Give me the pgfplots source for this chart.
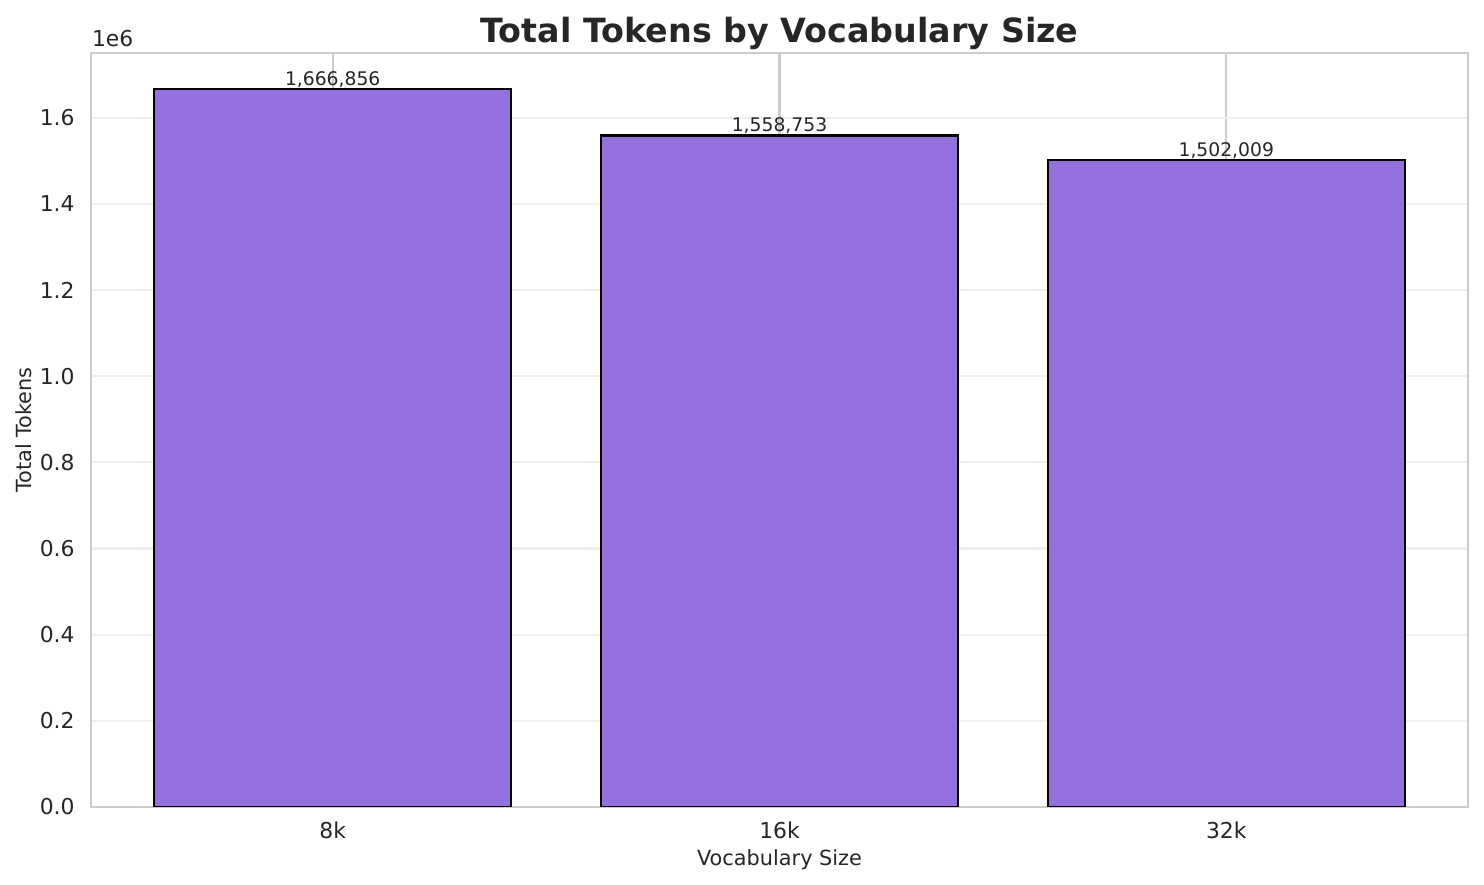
\documentclass[border=0pt]{standalone}
\usepackage{fontspec}
\setmainfont{DejaVu Sans}
\usepackage{pgfplots}
\pgfplotsset{compat=1.18}
\usepackage{pgfplotstable}
\definecolor{barc}{HTML}{9370DB}
\definecolor{txt}{HTML}{262626}
\definecolor{spine}{HTML}{CCCCCC}
\definecolor{ygrid}{HTML}{EFEFEF}
\pgfplotsset{layers/mylayers/.define layer set={axis background,axis grid,pre main,main,axis ticks,axis lines,axis tick labels,axis descriptions,axis foreground}{}}

\pgfplotstableread{
x y label
0 1666856 {1,666,856}
1 1558753 {1,558,753}
2 1502009 {1,502,009}
}\datatable

\begin{document}
\begin{tikzpicture}
\begin{axis}[
  set layers=mylayers,
  scale only axis,
  width=660.96pt, height=361.92pt,
  xmin=-0.541, xmax=2.541, ymin=0, ymax=1750199,
  xtick={0,1,2}, xticklabels={8k,16k,32k},
  ytick={0,200000,400000,600000,800000,1000000,1200000,1400000,1600000},
  yticklabels={0.0,0.2,0.4,0.6,0.8,1.0,1.2,1.4,1.6},
  scaled y ticks=false,
  major tick length=0pt,
  axis line style={spine, line width=1.25pt},
  xmajorgrids, ymajorgrids,
  major x grid style={spine, line width=1pt},
  major y grid style={ygrid, line width=1pt},
  x tick label style={anchor=base, yshift=-15.1pt, inner sep=0pt, font=\fontsize{10.5}{12}\selectfont, text=txt},
  y tick label style={anchor=east, xshift=-7.7pt, inner sep=0pt, font=\fontsize{10.5}{12}\selectfont, text=txt},
  xlabel={Vocabulary Size},
  xlabel style={at={(axis description cs:0.5,-0.0782)}, anchor=base, inner sep=0pt, font=\fontsize{10}{12}\selectfont, text=txt},
  ylabel={Total Tokens},
  ylabel style={at={(axis description cs:-0.0431,0.5)}, anchor=base, inner sep=0pt, font=\fontsize{10}{12}\selectfont, text=txt},
]
\addplot[ybar, bar width=0.8, bar shift=0pt, fill=barc, draw=black, line width=1pt,
  nodes near coords, point meta=explicit symbolic,
  nodes near coords style={anchor=base, inner sep=0pt, yshift=1.7pt, font=\fontsize{9}{10}\selectfont, text=txt}]
  table[x=x, y=y, meta=label] {\datatable};
\end{axis}
\node[anchor=base, inner sep=0pt, font=\fontsize{16}{19}\selectfont\bfseries, text=txt] at (330.48pt,367.0pt) {Total Tokens by Vocabulary Size};
\node[anchor=base west, inner sep=0pt, font=\fontsize{10.5}{12}\selectfont, text=txt] at (0.3pt,364.8pt) {1e6};
\pgfresetboundingbox
\path[use as bounding box] (-43.68pt,-37.44pt) rectangle (668.64pt,387.36pt);
\end{tikzpicture}
\end{document}
